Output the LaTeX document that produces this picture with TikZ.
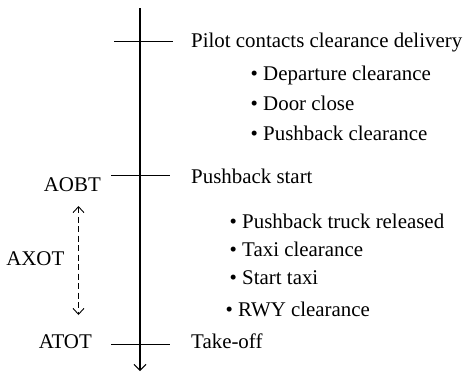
\documentclass[tikz,border=0pt]{standalone}
\usepackage{fontspec}
\setmainfont{Liberation Serif}
\usetikzlibrary{arrows.meta}
\begin{document}
\begin{tikzpicture}[x=1pt,y=-1pt,
  lbl/.style={anchor=base west,inner sep=0pt,font=\fontsize{20.9}{24}\selectfont},
  lblr/.style={anchor=base east,inner sep=0pt,font=\fontsize{20.9}{24}\selectfont},
  axis/.style={line width=1.05pt},
  tick/.style={line width=1pt},
  tip/.style={-{Straight Barb[length=6pt,width=12pt,line width=1pt]}},
  span/.style={line width=0.9pt,dash pattern=on 6pt off 3.5pt,
    {Straight Barb[length=6pt,width=11pt,line width=0.9pt]}-{Straight Barb[length=6pt,width=11pt,line width=0.9pt]}}]
\useasboundingbox (0,0) rectangle (463,372);

% timeline axis and ticks
\coordinate (top) at (140,8);
\coordinate (bot) at (140,371);
\draw[axis,tip] (top) -- (bot);

\coordinate (c1a) at (114,41.7);  \coordinate (c1b) at (173,41.7);
\coordinate (c2a) at (111,175.7); \coordinate (c2b) at (170,175.7);
\coordinate (c3a) at (111,344);   \coordinate (c3b) at (170,344);
\draw[tick] (c1a) -- (c1b);
\draw[tick] (c2a) -- (c2b);
\draw[tick] (c3a) -- (c3b);

% events
\node[lbl] (pilot) at (191,47.3) {Pilot contacts clearance delivery};
\node[lbl] (dep)   at (250.5,80)  {• Departure clearance};
\node[lbl] (door)  at (250.5,110) {• Door close};
\node[lbl] (pbc)   at (250.5,140) {• Pushback clearance};
\node[lbl] (pbs)   at (191,183.3) {Pushback start};
\node[lbl] (truck) at (229.5,228) {• Pushback truck released};
\node[lbl] (taxi)  at (229.5,256.7) {• Taxi clearance};
\node[lbl] (start) at (229.5,284) {• Start taxi};
\node[lbl] (rwy)   at (225.5,316.7) {• RWY clearance};
\node[lbl] (tko)   at (191,348.3) {Take-off};

% milestones
\node[lblr] (aobt) at (101,191) {AOBT};
\node[lblr] (axot) at (64.5,265) {AXOT};
\node[lblr] (atot) at (92,348.3) {ATOT};

% AXOT span
\coordinate (ax1) at (78.5,206);
\coordinate (ax2) at (78.5,315);
\draw[span] (ax1) -- (ax2);
\end{tikzpicture}
\end{document}
